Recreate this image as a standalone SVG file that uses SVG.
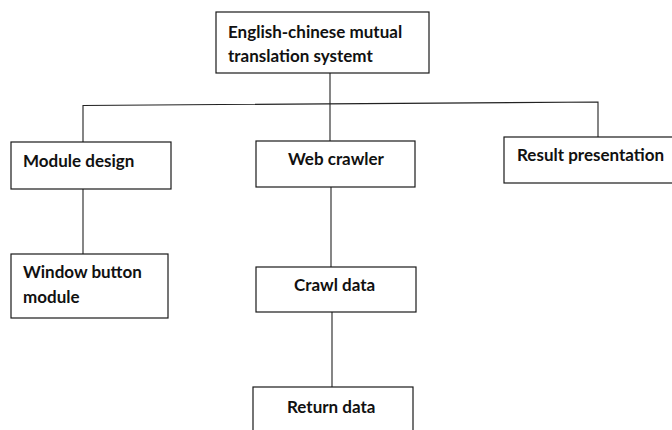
<svg xmlns="http://www.w3.org/2000/svg" width="672" height="430" viewBox="0 0 672 430">
<style>
.box{fill:#fff;stroke:#1a1a1a;stroke-width:1.2}
.t{font-family:Lato,"Open Sans","Liberation Sans",sans-serif;font-weight:700;font-size:17px;fill:#111}
.c{fill:none;stroke:#222;stroke-width:1.1}
</style>
<rect width="672" height="430" fill="#fff"/>
<g id="connectors">
<path class="c" d="M330,73 V141"/>
<path class="c" d="M83,142 V105.5 L598,102 V137"/>
<path class="c" d="M83,189 V254"/>
<path class="c" d="M331,187 V267"/>
<path class="c" d="M332,312 V387"/>
</g>
<g id="root">
<rect class="box" x="216" y="12" width="213" height="61"/>
<text class="t" x="228" y="38">English-chinese mutual</text>
<text class="t" x="228" y="62">translation systemt</text>
</g>
<g id="module-design">
<rect class="box" x="11" y="142" width="160" height="47"/>
<text class="t" x="23" y="167">Module design</text>
</g>
<g id="web-crawler">
<rect class="box" x="256" y="141" width="159" height="46"/>
<text class="t" x="288" y="165">Web crawler</text>
</g>
<g id="result-presentation">
<rect class="box" x="504" y="137" width="180" height="46"/>
<text class="t" x="517" y="161">Result presentation</text>
</g>
<g id="window-button-module">
<rect class="box" x="11" y="254" width="157" height="64"/>
<text class="t" x="23" y="278">Window button</text>
<text class="t" x="23" y="303">module</text>
</g>
<g id="crawl-data">
<rect class="box" x="256" y="267" width="160" height="45"/>
<text class="t" x="294" y="291">Crawl data</text>
</g>
<g id="return-data">
<rect class="box" x="253" y="387" width="160" height="50"/>
<text class="t" x="287" y="413">Return data</text>
</g>
</svg>
